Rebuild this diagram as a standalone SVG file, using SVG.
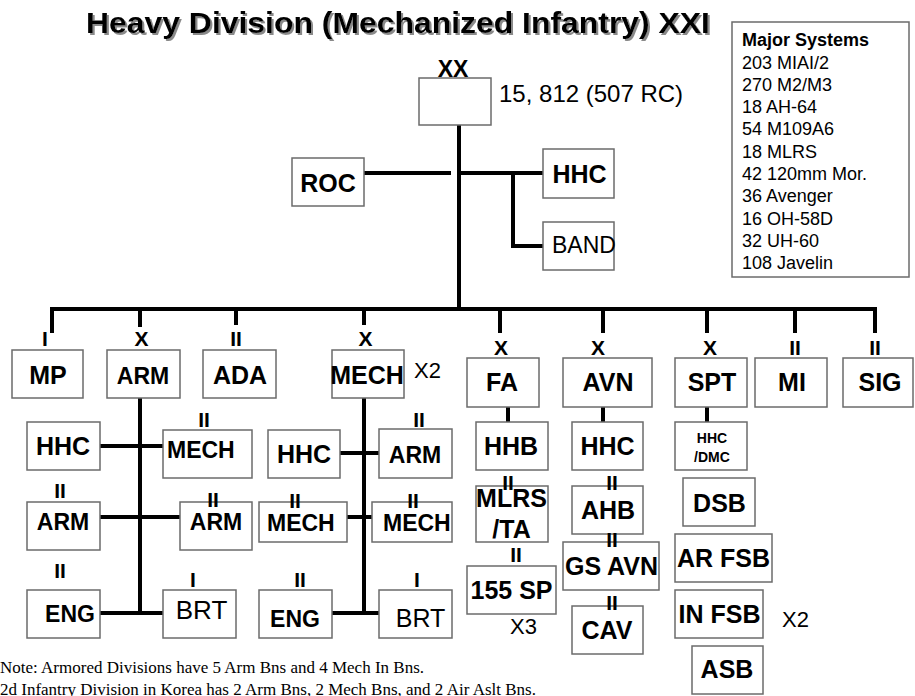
<svg xmlns="http://www.w3.org/2000/svg" width="915" height="696" viewBox="0 0 915 696">
<defs>
<filter id="shadow" x="-5%" y="-20%" width="110%" height="160%">
<feDropShadow dx="2" dy="2" stdDeviation="0.6" flood-color="#8a8a8a" flood-opacity="1"/>
</filter>
</defs>
<style>
text{font-family:"Liberation Sans",Arial,sans-serif;fill:#000}
.box{fill:#fff;stroke:#6b6b6b;stroke-width:1.5}
.lbl{font-weight:bold;font-size:25px;text-anchor:middle}
.lbl23{font-weight:bold;font-size:23px}
.ech{font-weight:bold;font-size:21px;text-anchor:middle}
.reg{font-size:22px}
.sys{font-size:18px}
.note{font-family:"Liberation Serif","Times New Roman",serif;font-size:17px}
.con{fill:none;stroke:#000;stroke-width:4}
</style>
<rect width="915" height="696" fill="#fff"/>
<g id="title">
<text x="86" y="33" style="font-size:30px;font-weight:bold" textLength="624" lengthAdjust="spacingAndGlyphs" filter="url(#shadow)">Heavy Division (Mechanized Infantry) XXI</text>
</g>
<g id="major-systems">
<rect x="732" y="22" width="177" height="255" class="box"/>
<text x="742" y="46" class="sys" style="font-weight:bold">Major Systems</text>
<text x="742" y="68.5" class="sys">203 MIAI/2</text>
<text x="742" y="90.8" class="sys">270 M2/M3</text>
<text x="742" y="113.1" class="sys">18 AH-64</text>
<text x="742" y="135.4" class="sys">54 M109A6</text>
<text x="742" y="157.7" class="sys">18 MLRS</text>
<text x="742" y="180" class="sys">42 120mm Mor.</text>
<text x="742" y="202.3" class="sys">36 Avenger</text>
<text x="742" y="224.6" class="sys">16 OH-58D</text>
<text x="742" y="246.9" class="sys">32 UH-60</text>
<text x="742" y="269.2" class="sys">108 Javelin</text>
</g>
<g id="connectors">
<path class="con" d="M459,125V311"/>
<path class="con" d="M364,173H451"/>
<path class="con" d="M459,173H543"/>
<path class="con" d="M513,173V246H543"/>
<path class="con" d="M52,333V309H875V333"/>
<path class="con" d="M140,309V327M236,309V325M364,309V325M500,309V333M603,309V333M707,309V333M795,309V333"/>
<path class="con" d="M140,398V613M100,446H163M100,517H180M100,613H163"/>
<path class="con" d="M364,398V613M340,453H379M347,517H372M332,613H379"/>
<path class="con" d="M508,407V422M603,407V422M707,407V422"/>
</g>
<g id="div-hq">
<rect x="419" y="78" width="72" height="47" class="box"/>
<text x="453" y="77" class="ech" style="font-size:23px">XX</text>
<text x="499" y="102" style="font-size:24px">15, 812 (507 RC)</text>
</g>
<g id="roc"><rect x="292" y="158" width="72" height="48" class="box"/><text x="328" y="192" class="lbl">ROC</text></g>
<g id="hhc-div"><rect x="543" y="149" width="71" height="49" class="box"/><text x="579.5" y="183" class="lbl">HHC</text></g>
<g id="band"><rect x="543" y="222" width="71" height="48" class="box"/><text x="552" y="253" style="font-size:23px">BAND</text></g>

<g id="mp"><rect x="12" y="350" width="71" height="48" class="box"/><text x="45" y="346" class="ech">I</text><text x="48" y="384" class="lbl">MP</text></g>
<g id="arm-bde"><rect x="107" y="350" width="73" height="48" class="box"/><text x="141.5" y="346" class="ech">X</text><text x="143" y="384" class="lbl" style="font-size:23px">ARM</text></g>
<g id="ada"><rect x="203" y="350" width="73" height="48" class="box"/><text x="236" y="346" class="ech">II</text><text x="240" y="384" class="lbl">ADA</text></g>
<g id="mech-bde"><rect x="332" y="350" width="72" height="48" class="box"/><text x="365.5" y="346" class="ech">X</text><text x="367" y="384" class="lbl">MECH</text><text x="414" y="378" class="reg">X2</text></g>
<g id="fa"><rect x="467" y="358" width="72" height="49" class="box"/><text x="501" y="355" class="ech">X</text><text x="502" y="391" class="lbl">FA</text></g>
<g id="avn"><rect x="563" y="358" width="89" height="49" class="box"/><text x="598" y="355" class="ech">X</text><text x="608" y="391" class="lbl">AVN</text></g>
<g id="spt"><rect x="675" y="358" width="72" height="49" class="box"/><text x="710" y="355" class="ech">X</text><text x="712" y="391" class="lbl">SPT</text></g>
<g id="mi"><rect x="755" y="358" width="72" height="49" class="box"/><text x="795" y="355" class="ech">II</text><text x="792" y="391" class="lbl">MI</text></g>
<g id="sig"><rect x="843" y="358" width="70" height="49" class="box"/><text x="875" y="355" class="ech">II</text><text x="880" y="391" class="lbl">SIG</text></g>

<g id="arm-hhc"><rect x="27" y="422" width="73" height="48" class="box"/><text x="63" y="455" class="lbl">HHC</text></g>
<g id="arm-mech"><rect x="163" y="430" width="89" height="48" class="box"/><text x="204" y="427" class="ech">II</text><text x="167" y="458" class="lbl23">MECH</text></g>
<g id="arm-arm1"><rect x="27" y="502" width="73" height="48" class="box"/><text x="60" y="498" class="ech">II</text><text x="63" y="530" class="lbl" style="font-size:23px">ARM</text></g>
<g id="arm-arm2"><rect x="180" y="502" width="72" height="48" class="box"/><text x="213" y="507" class="ech">II</text><text x="216" y="530" class="lbl" style="font-size:23px">ARM</text></g>
<g id="arm-eng"><rect x="27" y="590" width="73" height="48" class="box"/><text x="60" y="578" class="ech">II</text><text x="70" y="622" class="lbl" style="font-size:23px">ENG</text></g>
<g id="arm-brt"><rect x="163" y="590" width="73" height="48" class="box"/><text x="193" y="587" class="ech">I</text><text x="201.5" y="619" style="font-size:26px;text-anchor:middle">BRT</text></g>

<g id="mech-hhc"><rect x="268" y="430" width="72" height="48" class="box"/><text x="304" y="463" class="lbl">HHC</text></g>
<g id="mech-arm"><rect x="379" y="429" width="73" height="49" class="box"/><text x="419" y="427" class="ech">II</text><text x="415" y="463" class="lbl" style="font-size:23px">ARM</text></g>
<g id="mech-mech1"><rect x="259" y="502" width="88" height="40" class="box"/><text x="295" y="508" class="ech">II</text><text x="267" y="531" class="lbl23">MECH</text></g>
<g id="mech-mech2"><rect x="372" y="502" width="80" height="40" class="box"/><text x="413" y="508" class="ech">II</text><text x="383" y="531" class="lbl23">MECH</text></g>
<g id="mech-eng"><rect x="259" y="590" width="73" height="48" class="box"/><text x="300" y="587" class="ech">II</text><text x="295" y="627" class="lbl" style="font-size:23px">ENG</text></g>
<g id="mech-brt"><rect x="379" y="590" width="73" height="48" class="box"/><text x="417" y="587" class="ech">I</text><text x="420.5" y="627" style="font-size:25px;text-anchor:middle">BRT</text></g>

<g id="fa-hhb"><rect x="476" y="422" width="72" height="48" class="box"/><text x="511" y="455" class="lbl">HHB</text></g>
<g id="fa-mlrs"><rect x="476" y="486" width="72" height="56" class="box"/><text x="508" y="490" class="ech">II</text><text x="511.5" y="507" class="lbl">MLRS</text><text x="511.5" y="538" class="lbl">/TA</text></g>
<g id="fa-155"><rect x="467" y="566" width="89" height="48" class="box"/><text x="516" y="562" class="ech">II</text><text x="511.5" y="599" class="lbl">155 SP</text><text x="510" y="634" class="reg">X3</text></g>

<g id="avn-hhc"><rect x="572" y="422" width="71" height="48" class="box"/><text x="607.5" y="455" class="lbl">HHC</text></g>
<g id="avn-ahb"><rect x="572" y="486" width="71" height="48" class="box"/><text x="612" y="490" class="ech">II</text><text x="608" y="519" class="lbl">AHB</text></g>
<g id="avn-gs"><rect x="563" y="542" width="96" height="48" class="box"/><text x="612" y="547" class="ech">II</text><text x="611.5" y="575" class="lbl">GS AVN</text></g>
<g id="avn-cav"><rect x="572" y="606" width="71" height="48" class="box"/><text x="612" y="610" class="ech">II</text><text x="607" y="639" class="lbl">CAV</text></g>

<g id="spt-hhc"><rect x="675" y="422" width="72" height="48" class="box"/><text x="712" y="443" class="lbl" style="font-size:14px">HHC</text><text x="712" y="462" class="lbl" style="font-size:14px">/DMC</text></g>
<g id="spt-dsb"><rect x="683" y="478" width="72" height="48" class="box"/><text x="719.5" y="512" class="lbl">DSB</text></g>
<g id="spt-arfsb"><rect x="675" y="534" width="97" height="48" class="box"/><text x="723.5" y="567" class="lbl">AR FSB</text></g>
<g id="spt-infsb"><rect x="675" y="590" width="88" height="48" class="box"/><text x="719.5" y="623" class="lbl">IN FSB</text><text x="782" y="627" class="reg">X2</text></g>
<g id="spt-asb"><rect x="692" y="646" width="71" height="48" class="box"/><text x="727" y="678" class="lbl">ASB</text></g>

<g id="notes">
<text x="0" y="673" class="note">Note: Armored Divisions have 5 Arm Bns and 4 Mech In Bns.</text>
<text x="0" y="695" class="note">2d Infantry Division in Korea has 2 Arm Bns, 2 Mech Bns, and 2 Air Aslt Bns.</text>
</g>
</svg>
